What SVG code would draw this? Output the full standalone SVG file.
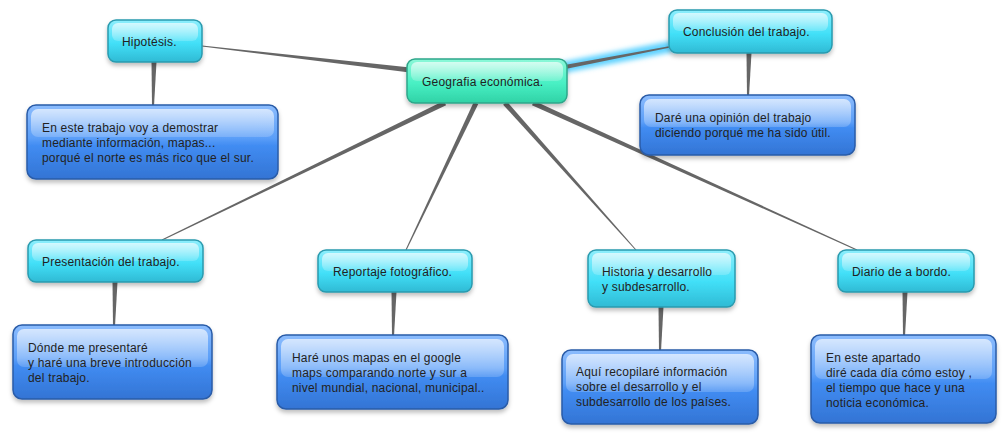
<svg xmlns="http://www.w3.org/2000/svg" width="1006" height="434" viewBox="0 0 1006 434">
<defs>
<linearGradient id="gCyan" x1="0" y1="0" x2="0" y2="1">
<stop offset="0" stop-color="#8eeefc"/><stop offset="0.55" stop-color="#42e0f8"/><stop offset="1" stop-color="#2fbad4"/>
</linearGradient>
<linearGradient id="gGreen" x1="0" y1="0" x2="0" y2="1">
<stop offset="0" stop-color="#8cf8d8"/><stop offset="0.55" stop-color="#48f0c4"/><stop offset="1" stop-color="#30d2a6"/>
</linearGradient>
<linearGradient id="gBlue" x1="0" y1="0" x2="0" y2="1">
<stop offset="0" stop-color="#8cbcfd"/><stop offset="0.45" stop-color="#5a9ef8"/><stop offset="0.55" stop-color="#418cf2"/><stop offset="1" stop-color="#3374d4"/>
</linearGradient>
<linearGradient id="gGloss" x1="0" y1="0" x2="0" y2="1">
<stop offset="0" stop-color="#ffffff" stop-opacity="0.65"/><stop offset="1" stop-color="#ffffff" stop-opacity="0.18"/>
</linearGradient>
<filter id="shadow" x="-10%" y="-10%" width="120%" height="140%">
<feDropShadow dx="0" dy="3" stdDeviation="2" flood-color="#000" flood-opacity="0.25"/>
</filter>
<filter id="glow" x="-20%" y="-200%" width="140%" height="500%">
<feGaussianBlur stdDeviation="2.5"/>
</filter>
<style>
.cyan{fill:url(#gCyan);stroke:#2a9aae;stroke-width:1.5;filter:url(#shadow)}
.green{fill:url(#gGreen);stroke:#2ea68a;stroke-width:1.5;filter:url(#shadow)}
.blue{fill:url(#gBlue);stroke:#2a5ca8;stroke-width:1.5;filter:url(#shadow)}
.gloss{fill:url(#gGloss)}
text{font-family:"Liberation Sans",Arial,sans-serif;font-size:12px;letter-spacing:0.2px;fill:#222222}
.conn polygon{fill:#666666}
</style>
</defs>
<g id="connectors" class="conn">
<line x1="669" y1="47" x2="565" y2="67" stroke="#5fd2ff" stroke-width="11" stroke-linecap="round" filter="url(#glow)"/>
<polygon points="201.94,46.5 409.71,72.48 410.29,67.52 202.06,45.5"/>
<polygon points="668.86,46.26 564.62,65.04 565.38,68.96 669.14,47.74"/>
<polygon points="443.91,100.75 161.78,239.55 162.22,240.45 446.09,105.25"/>
<polygon points="473.74,101.93 405.55,249.79 406.45,250.21 478.26,104.07"/>
<polygon points="503.13,104.66 635.63,250.33 636.37,249.67 506.87,101.34"/>
<polygon points="531.97,105.28 856.79,250.46 857.21,249.54 534.03,100.72"/>
<polygon points="151.5,62 156.5,62 154,106 152,106"/>
<polygon points="746.5,53 751.5,53 749,96 747,96"/>
<polygon points="112.5,282 117.5,282 115,326 113,326"/>
<polygon points="391.5,292 396.5,292 394,336 392,336"/>
<polygon points="658.5,307 663.5,307 661,351 659,351"/>
<polygon points="902.5,292 907.5,292 905,336 903,336"/>
</g>
<g id="central">
<rect class="green" x="407" y="59" width="160" height="44" rx="8"/>
<rect class="gloss" x="411" y="62" width="152" height="19" rx="6"/>
<text x="422" y="86">Geografia económica.</text>
</g>
<g id="hipotesis">
<rect class="cyan" x="108" y="20" width="94" height="42" rx="8"/>
<rect class="gloss" x="112" y="23" width="86" height="18" rx="6"/>
<text x="122" y="46">Hipotésis.</text>
</g>
<g id="hipotesis-desc">
<rect class="blue" x="27" y="105" width="251" height="74" rx="9"/>
<rect class="gloss" x="31" y="109" width="243" height="28" rx="7"/>
<text x="42" y="132">En este trabajo voy a demostrar</text>
<text x="42" y="147">mediante información, mapas...</text>
<text x="42" y="162">porqué el norte es más rico que el sur.</text>
</g>
<g id="conclusion">
<rect class="cyan" x="669" y="10" width="163" height="43" rx="8"/>
<rect class="gloss" x="673" y="13" width="155" height="18" rx="6"/>
<text x="683" y="36">Conclusión del trabajo.</text>
</g>
<g id="conclusion-desc">
<rect class="blue" x="640" y="95" width="215" height="60" rx="9"/>
<rect class="gloss" x="644" y="99" width="207" height="28" rx="7"/>
<text x="655" y="122">Daré una opinión del trabajo</text>
<text x="655" y="137">diciendo porqué me ha sido útil.</text>
</g>
<g id="presentacion">
<rect class="cyan" x="28" y="240" width="175" height="42" rx="8"/>
<rect class="gloss" x="32" y="243" width="167" height="18" rx="6"/>
<text x="42" y="266">Presentación del trabajo.</text>
</g>
<g id="presentacion-desc">
<rect class="blue" x="13" y="325" width="199" height="74" rx="9"/>
<rect class="gloss" x="17" y="329" width="191" height="38" rx="7"/>
<text x="28" y="352">Dónde me presentaré</text>
<text x="28" y="367">y haré una breve introducción</text>
<text x="28" y="382">del trabajo.</text>
</g>
<g id="reportaje">
<rect class="cyan" x="318" y="250" width="154" height="42" rx="8"/>
<rect class="gloss" x="322" y="253" width="146" height="18" rx="6"/>
<text x="333" y="276">Reportaje fotográfico.</text>
</g>
<g id="reportaje-desc">
<rect class="blue" x="277" y="335" width="231" height="74" rx="9"/>
<rect class="gloss" x="281" y="339" width="223" height="38" rx="7"/>
<text x="292" y="362">Haré unos mapas en el google</text>
<text x="292" y="377">maps comparando norte y sur a</text>
<text x="292" y="392">nivel mundial, nacional, municipal..</text>
</g>
<g id="historia">
<rect class="cyan" x="588" y="250" width="147" height="57" rx="8"/>
<rect class="gloss" x="592" y="253" width="139" height="22" rx="6"/>
<text x="602" y="276">Historia y desarrollo</text>
<text x="602" y="291">y subdesarrollo.</text>
</g>
<g id="historia-desc">
<rect class="blue" x="562" y="350" width="196" height="74" rx="9"/>
<rect class="gloss" x="566" y="354" width="188" height="38" rx="7"/>
<text x="576" y="376">Aquí recopilaré información</text>
<text x="576" y="391">sobre el desarrollo y el</text>
<text x="576" y="406">subdesarrollo de los países.</text>
</g>
<g id="diario">
<rect class="cyan" x="838" y="250" width="136" height="42" rx="8"/>
<rect class="gloss" x="842" y="253" width="128" height="18" rx="6"/>
<text x="852" y="276">Diario de a bordo.</text>
</g>
<g id="diario-desc">
<rect class="blue" x="811" y="335" width="185" height="88" rx="9"/>
<rect class="gloss" x="815" y="339" width="177" height="40" rx="7"/>
<text x="826" y="362">En este apartado</text>
<text x="826" y="377">diré cada día cómo estoy ,</text>
<text x="826" y="392">el tiempo que hace y una</text>
<text x="826" y="407">noticia económica.</text>
</g>
</svg>
